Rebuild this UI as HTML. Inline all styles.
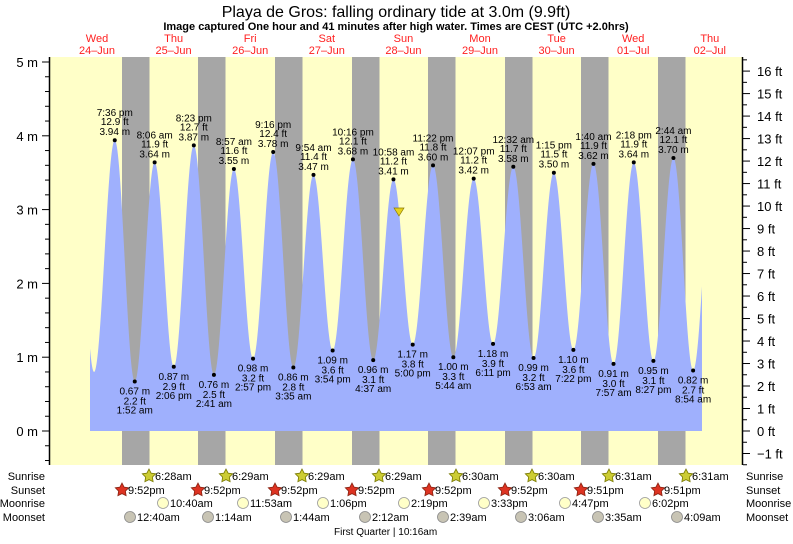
<!DOCTYPE html>
<html><head><meta charset="utf-8"><style>
body{margin:0;background:#fff;}
svg text{font-family:"Liberation Sans",sans-serif;}
</style></head><body>
<svg id="s" width="793" height="539" xmlns="http://www.w3.org/2000/svg">
<rect x="0" y="0" width="793" height="539" fill="#fff"/>
<rect x="49" y="57" width="693" height="408" fill="#ffffc8"/>
<g id="bands" fill="#a6a6a6"></g>
<path id="tide" fill="#9fb0fd"/>
<g id="dots"></g>
<g id="axes" stroke="#000" fill="none"></g>
<g id="txt" font-size="11" fill="#000"></g>
<polygon points="394,208 404,208 399,216" fill="#e6d21e" stroke="#8a7a00" stroke-width="0.7"/>
<text x="396" y="17" font-size="16" text-anchor="middle">Playa de Gros: falling  ordinary tide at 3.0m (9.9ft)</text>
<text x="396" y="30" font-size="11" font-weight="bold" text-anchor="middle">Image captured One hour and 41 minutes after high water. Times are CEST (UTC +2.0hrs)</text>
</svg>
<script>
const NS="http://www.w3.org/2000/svg";
function el(p,t,a,tx){const e=document.createElementNS(NS,t);for(const k in a)e.setAttribute(k,a[k]);if(tx!==undefined)e.textContent=tx;document.getElementById(p).appendChild(e);return e;}
const X=t=>128.8+t*3.19, Y=h=>431-h*73.8;
[122,198,275,352,428,505,581,658].forEach(x=>el("bands","rect",{x:x,y:57,width:27.5,height:408}));
const ex=[[-17,3.9,0],[-10.9,0.8,0],[-4.4,3.94,"7:36 pm"],[1.867,0.67,"1:52 am"],[8.1,3.64,"8:06 am"],[14.1,0.87,"2:06 pm"],[20.383,3.87,"8:23 pm"],[26.683,0.76,"2:41 am"],[32.95,3.55,"8:57 am"],[38.95,0.98,"2:57 pm"],[45.267,3.78,"9:16 pm"],[51.583,0.86,"3:35 am"],[57.9,3.47,"9:54 am"],[63.9,1.09,"3:54 pm"],[70.267,3.68,"10:16 pm"],[76.617,0.96,"4:37 am"],[82.967,3.41,"10:58 am"],[89,1.17,"5:00 pm"],[95.367,3.60,"11:22 pm"],[101.733,1.00,"5:44 am"],[108.117,3.42,"12:07 pm"],[114.183,1.18,"6:11 pm"],[120.533,3.58,"12:32 am"],[126.883,0.99,"6:53 am"],[133.25,3.50,"1:15 pm"],[139.367,1.10,"7:22 pm"],[145.667,3.62,"1:40 am"],[151.95,0.91,"7:57 am"],[158.3,3.64,"2:18 pm"],[164.45,0.95,"8:27 pm"],[170.733,3.70,"2:44 am"],[176.9,0.82,"8:54 am"],[183.2,3.6,0]];
function H(t){for(let i=0;i<ex.length-1;i++){const a=ex[i],b=ex[i+1];if(t>=a[0]&&t<=b[0]){const f=(t-a[0])/(b[0]-a[0]);return a[1]+(b[1]-a[1])*(1-Math.cos(Math.PI*f))/2;}}return 1;}
let d="M90,431";for(let x=90;x<=702;x+=0.5){const t=(x-128.8)/3.19;d+=` L${x},${Y(H(t)).toFixed(1)}`;}d+=" L702,431 Z";
document.getElementById("tide").setAttribute("d",d);
ex.forEach(e=>{if(!e[2])return;const x=X(e[0]),y=Y(e[1]);el("dots","circle",{cx:x,cy:y,r:2,fill:"#000"});
const m=e[1].toFixed(2)+" m",ft=(e[1]/0.3048).toFixed(1)+" ft";const fs=10;
if(e[1]>2){el("txt","text",{x:x,y:y-5,"text-anchor":"middle","font-size":fs},m);el("txt","text",{x:x,y:y-15,"text-anchor":"middle","font-size":fs},ft);el("txt","text",{x:x,y:y-24,"text-anchor":"middle","font-size":fs},e[2]);}
else{el("txt","text",{x:x,y:y+13,"text-anchor":"middle","font-size":fs},m);el("txt","text",{x:x,y:y+23,"text-anchor":"middle","font-size":fs},ft);el("txt","text",{x:x,y:y+32,"text-anchor":"middle","font-size":fs},e[2]);}});
el("axes","line",{x1:49.5,y1:57,x2:49.5,y2:465,"stroke-width":1.5});
el("axes","line",{x1:742.5,y1:57,x2:742.5,y2:465,"stroke-width":1.5});
for(let v=-0.4;v<=5.41;v+=0.2){const y=Y(v);if(y<57||y>465)continue;const maj=Math.abs(v-Math.round(v))<0.01;el("axes","line",{x1:maj?42:45,y1:y,x2:49,y2:y});
if(maj)el("txt","text",{x:38,y:y+5,"text-anchor":"end","font-size":13},Math.round(v)+" m");}
for(let f=-1.5;f<=16.6;f+=0.5){const y=431-f*0.3048*73.8;if(y<58||y>465)continue;const maj=Math.abs(f-Math.round(f))<0.01;el("axes","line",{x1:743,y1:y,x2:maj?750:747,y2:y});
if(maj)el("txt","text",{x:757,y:y+5,"font-size":13},(Math.round(f)<0?"\u2212"+(-Math.round(f)):Math.round(f))+" ft");}
const days=[["Wed","24\u2013Jun"],["Thu","25\u2013Jun"],["Fri","26\u2013Jun"],["Sat","27\u2013Jun"],["Sun","28\u2013Jun"],["Mon","29\u2013Jun"],["Tue","30\u2013Jun"],["Wed","01\u2013Jul"],["Thu","02\u2013Jul"]];
days.forEach((d,i)=>{const x=97+i*76.6;el("txt","text",{x:x,y:42,"text-anchor":"middle",fill:"#ff2020"},d[0]);el("txt","text",{x:x,y:54,"text-anchor":"middle",fill:"#ff2020"},d[1]);});
[["Sunrise",480],["Sunset",494],["Moonrise",507],["Moonset",521]].forEach(r=>{el("txt","text",{x:45,y:r[1],"text-anchor":"end"},r[0]);el("txt","text",{x:746,y:r[1]},r[0]);});
function star(cx,cy,fill,stroke){let p="";for(let i=0;i<10;i++){const a=-Math.PI/2+i*Math.PI/5,r=i%2?3.6:7;p+=(cx+r*Math.cos(a)).toFixed(1)+","+(cy+r*Math.sin(a)).toFixed(1)+" ";}el("txt","polygon",{points:p,fill:fill,stroke:stroke,"stroke-width":0.8});}
const sr=["6:28am","6:29am","6:29am","6:29am","6:30am","6:30am","6:31am","6:31am"];
[149,226,302,379,456,532,609,686].forEach((x,i)=>{star(x,476,"#cccc33","#777700");el("txt","text",{x:x+6,y:480},sr[i]);});
const ss=["9:52pm","9:52pm","9:52pm","9:52pm","9:52pm","9:52pm","9:51pm","9:51pm"];
[122,198,275,352,429,505,581,658].forEach((x,i)=>{star(x,490,"#dd3322","#882211");el("txt","text",{x:x+6,y:494},ss[i]);});
const mr=[[163,"10:40am"],[243,"11:53am"],[323,"1:06pm"],[404,"2:19pm"],[484,"3:33pm"],[565,"4:47pm"],[645,"6:02pm"]];
mr.forEach(m=>{el("txt","circle",{cx:m[0],cy:503,r:5.5,fill:"#ffffc8",stroke:"#999","stroke-width":0.8});el("txt","text",{x:m[0]+7,y:507},m[1]);});
const ms=[[130,"12:40am"],[208,"1:14am"],[286,"1:44am"],[365,"2:12am"],[443,"2:39am"],[521,"3:06am"],[598,"3:35am"],[677,"4:09am"]];
ms.forEach(m=>{el("txt","circle",{cx:m[0],cy:517,r:5.5,fill:"#c8c4b4",stroke:"#888","stroke-width":0.8});el("txt","text",{x:m[0]+7,y:521},m[1]);});
el("txt","text",{x:334,y:535,"font-size":10},"First Quarter | 10:16am");
</script>
</body></html>
